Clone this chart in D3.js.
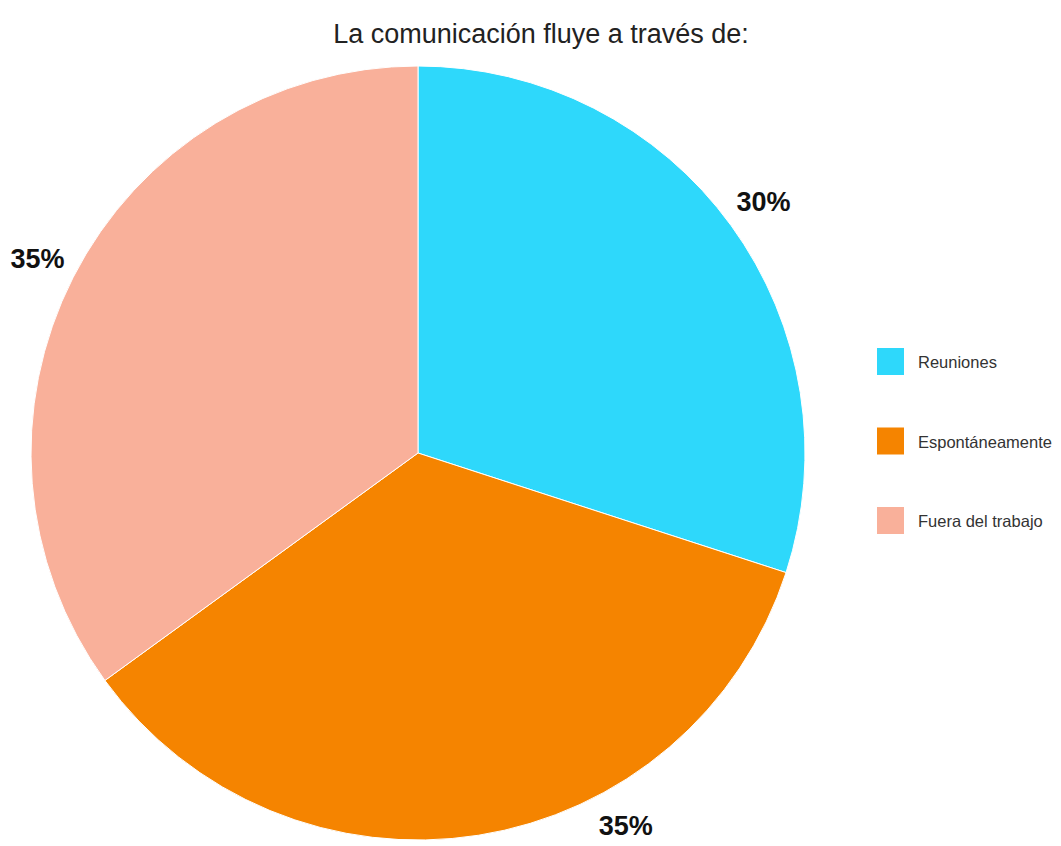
<!DOCTYPE html>
<html>
<head>
<meta charset="utf-8">
<script src="https://cdn.jsdelivr.net/npm/d3@7"></script>
<style>
  html, body { margin: 0; padding: 0; background: #ffffff; }
  svg { display: block; }
</style>
</head>
<body>
<div id="chart"></div>
<script>
// Chart data
const categories = ["Reuniones", "Espontáneamente", "Fuera del trabajo"];
const values = [30, 35, 35];
const valueLabels = ["30%", "35%", "35%"];
const sliceColors = ["#2ed8fb", "#f58400", "#f9b09a"];
const chartTitle = "La comunicación fluye a través de:";

const width = 1061, height = 846;
const cx = 418, cy = 453, radius = 387, labelRadius = 427;
const labelMaxY = height - 20;

const svg = d3.select("#chart").append("svg")
  .attr("width", width)
  .attr("height", height)
  .style("font-family", "Arial, 'Liberation Sans', sans-serif");

// Title
svg.append("text")
  .attr("x", 541)
  .attr("y", 43)
  .attr("text-anchor", "middle")
  .attr("font-size", 27)
  .attr("fill", "#222222")
  .text(chartTitle);

const color = d3.scaleOrdinal().domain(categories).range(sliceColors);

const pie = d3.pie().sort(null).value(d => d.value);
const arcs = pie(categories.map((c, i) => ({ name: c, value: values[i], label: valueLabels[i] })));

const arc = d3.arc().innerRadius(0).outerRadius(radius);

// Label position on a circle outside the pie; a label that would fall below
// the canvas slides along that circle until it fits.
function labelPos(d) {
  let a = (d.startAngle + d.endAngle) / 2;
  let x = labelRadius * Math.sin(a);
  let y = -labelRadius * Math.cos(a);
  if (cy + y > labelMaxY) {
    const phi = Math.acos((labelMaxY - cy) / labelRadius);
    a = a <= Math.PI ? Math.PI - phi : Math.PI + phi;
    a = Math.max(d.startAngle, Math.min(d.endAngle, a));
    x = labelRadius * Math.sin(a);
    y = -labelRadius * Math.cos(a);
  }
  return [x, y];
}

const g = svg.append("g").attr("transform", `translate(${cx},${cy})`);

g.selectAll("path.slice")
  .data(arcs)
  .join("path")
  .attr("class", "slice")
  .attr("d", arc)
  .attr("fill", d => color(d.data.name))
  .attr("stroke", "#ffffff")
  .attr("stroke-width", 1);

g.selectAll("text.value")
  .data(arcs)
  .join("text")
  .attr("class", "value")
  .attr("transform", d => `translate(${labelPos(d)})`)
  .attr("text-anchor", "middle")
  .attr("dominant-baseline", "central")
  .attr("font-size", 27)
  .attr("font-weight", "bold")
  .attr("fill", "#111111")
  .text(d => d.data.label);

// Legend
const legend = svg.append("g").attr("transform", "translate(877,348)");
const items = legend.selectAll("g.item")
  .data(categories)
  .join("g")
  .attr("class", "item")
  .attr("transform", (d, i) => `translate(0,${i * 79.5})`);

items.append("rect")
  .attr("width", 27)
  .attr("height", 27)
  .attr("fill", d => color(d));

items.append("text")
  .attr("x", 41)
  .attr("y", 14)
  .attr("dominant-baseline", "central")
  .attr("font-size", 16.5)
  .attr("fill", "#333333")
  .text(d => d);
</script>
</body>
</html>
